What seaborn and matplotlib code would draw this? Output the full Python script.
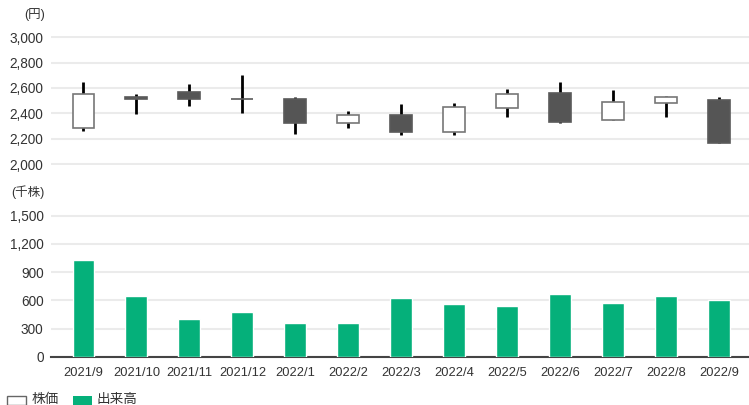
import matplotlib
matplotlib.use("Agg")
import matplotlib.pyplot as plt
from matplotlib.patches import Rectangle
import seaborn as sns
import pandas as pd
import numpy as np

months = ["2021/9", "2021/10", "2021/11", "2021/12", "2022/1", "2022/2", "2022/3",
          "2022/4", "2022/5", "2022/6", "2022/7", "2022/8", "2022/9"]
open_ = [2285, 2530, 2565, 2515, 2510, 2320, 2385, 2250, 2440, 2560, 2350, 2485, 2505]
high = [2645, 2550, 2629, 2702, 2531, 2418, 2474, 2482, 2592, 2647, 2584, 2537, 2526]
low = [2263, 2397, 2460, 2405, 2239, 2287, 2232, 2232, 2369, 2326, 2350, 2373, 2163]
close = [2550, 2515, 2515, 2510, 2320, 2385, 2255, 2447, 2550, 2328, 2487, 2525, 2165]
volume = [1029, 647, 403, 478, 361, 361, 625, 561, 540, 667, 572, 646, 604]

price_ticks = [2000, 2200, 2400, 2600, 2800, 3000]
vol_ticks = [0, 300, 600, 900, 1200, 1500]
legend_labels = ["株価", "出来高"]

sns.set_theme(style="white")
plt.rcParams["font.family"] = ["Liberation Sans", "Noto Sans CJK JP", "DejaVu Sans"]

W, H = 749, 405
fig = plt.figure(figsize=(W / 100, H / 100), dpi=100)

text_c = "#333333"
grid_c = "#ebebeb"
green = "#05b07a"
left = 50.5 / W
width = 1 - left

# ---------- price panel ----------
ax1 = fig.add_axes([left, 1 - 165.3 / H, width, 129.3 / H])
df = pd.DataFrame({"month": months, "open": open_, "high": high, "low": low, "close": close})
xs = np.arange(len(months))
up = df["close"] >= df["open"]
bottoms = np.minimum(df["open"], df["close"])
heights = np.maximum(np.abs(df["close"] - df["open"]), 3)
ax1.vlines(xs, df["low"], df["high"], color="black", linewidth=2, zorder=2)
ax1.bar(xs, heights, bottom=bottoms, width=0.415,
        color=np.where(up, "white", "#555555"),
        edgecolor=np.where(up, "#777777", "#5a5a5a"), linewidth=1.2, zorder=3)
ax1.set_ylim(1990, 3010)
ax1.set_xlim(-0.623, 12.566)
ax1.set_yticks(price_ticks)
ax1.set_yticklabels([f"{v:,}" for v in price_ticks])
ax1.set_xticks([])
ax1.grid(axis="y", color=grid_c, linewidth=1.5)
ax1.set_axisbelow(True)
for s in ax1.spines.values():
    s.set_visible(False)
ax1.tick_params(axis="y", length=0, pad=5, labelsize=9.8, labelcolor=text_c)

# ---------- volume panel ----------
ax2 = fig.add_axes([left, 1 - 357 / H, width, (357 - 212.9) / H])
vdf = pd.DataFrame({"month": months, "volume": volume})
sns.barplot(data=vdf, x="month", y="volume", color=green, saturation=1,
            width=0.415, ax=ax2, zorder=3)
ax2.set_ylim(0, 1530)
ax2.set_xlim(-0.623, 12.566)
ax2.set_yticks(vol_ticks)
ax2.set_yticklabels([f"{v:,}" for v in vol_ticks])
ax2.set_xlabel("")
ax2.set_ylabel("")
ax2.grid(axis="y", color=grid_c, linewidth=1.5)
ax2.set_axisbelow(True)
for k, s in ax2.spines.items():
    s.set_visible(k == "bottom")
ax2.spines["bottom"].set_color("#444444")
ax2.spines["bottom"].set_linewidth(1.5)
ax2.tick_params(axis="y", length=0, pad=5, labelsize=9.8, labelcolor=text_c)
ax2.tick_params(axis="x", length=0, pad=7, labelsize=9.3, labelcolor=text_c)

# unit labels
fig.text(45 / W, 1 - 15 / H, "(円)", ha="right", va="center", fontsize=9, color=text_c)
fig.text(44 / W, 1 - 192 / H, "(千株)", ha="right", va="center", fontsize=9, color=text_c)

# legend (drawn in figure pixels)
def px(x, y):
    return x / W, 1 - y / H

fig.patches.append(Rectangle(px(6.7, 404.5), 19 / W, 8.5 / H, transform=fig.transFigure,
                             facecolor="white", edgecolor="#666666", linewidth=1))
fig.text(*px(31.5, 399.5), legend_labels[0], ha="left", va="center", fontsize=9.8, color=text_c)
fig.patches.append(Rectangle(px(73, 404.5), 18.5 / W, 8.5 / H, transform=fig.transFigure,
                             facecolor=green, edgecolor=green, linewidth=0))
fig.text(*px(96, 399.5), legend_labels[1], ha="left", va="center", fontsize=9.8, color=text_c)

fig.savefig("out.png", dpi=100)
